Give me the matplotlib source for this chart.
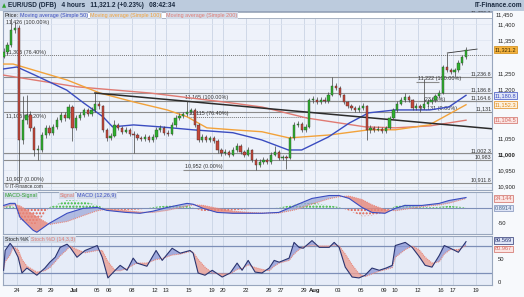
import numpy as np
import matplotlib.pyplot as plt

W, H = 524, 297
plt.rcParams['font.family'] = ['Liberation Sans', 'DejaVu Sans']

# 8-hour candles from 22 Jun to 18 Aug (index k, day d starts at k = 3.5 + 3*d)
close = [11314, 11336, 11382, 11388, 11044, 11105, 11121, 11081, 11013, 11013,
         11059, 11081, 11066, 11084, 11105, 11121, 11112, 11145, 11081, 11112,
         11121, 11136, 11123, 11136, 11155, 11148, 11075, 11050, 11056, 11090,
         11081, 11068, 11075, 11063, 11059, 11050, 11047, 11053, 11044, 11053,
         11075, 11081, 11066, 11063, 11090, 11112, 11118, 11123, 11130, 11136,
         11090, 11044, 11053, 11044, 11050, 11041, 11013, 11004, 11007, 10998,
         11013, 11026, 11007, 10998, 11013, 10982, 10967, 10976, 10982, 10976,
         10998, 11007, 10989, 10992, 10989, 11050, 11090, 11093, 11075, 11084,
         11167, 11167, 11160, 11167, 11164, 11182, 11210, 11204, 11182, 11160,
         11148, 11142, 11136, 11142, 11148, 11075, 11081, 11075, 11078, 11071,
         11081, 11112, 11136, 11155, 11167, 11176, 11167, 11142, 11148, 11142,
         11155, 11160, 11167, 11179, 11189, 11268, 11259, 11253, 11259, 11281,
         11299, 11321]
high = [11325, 11345, 11426, 11405, 11398, 11180, 11182, 11132, 11088, 11027,
        11067, 11091, 11089, 11094, 11114, 11130, 11131, 11155, 11150, 11120,
        11130, 11143, 11141, 11146, 11189, 11162, 11152, 11082, 11065, 11105,
        11097, 11086, 11084, 11080, 11070, 11065, 11057, 11061, 11058, 11061,
        11084, 11090, 11086, 11073, 11098, 11120, 11126, 11131, 11165, 11143,
        11141, 11095, 11061, 11059, 11057, 11055, 11046, 11019, 11016, 11012,
        11021, 11033, 11031, 11012, 11021, 11017, 10987, 10984, 10991, 10989,
        11006, 11026, 11012, 10999, 10999, 11057, 11098, 11103, 11099, 11092,
        11174, 11179, 11175, 11177, 11175, 11190, 11237, 11218, 11209, 11186,
        11165, 11155, 11149, 11150, 11156, 11152, 11089, 11086, 11086, 11084,
        11088, 11118, 11143, 11162, 11175, 11187, 11183, 11171, 11156, 11153,
        11232, 11169, 11175, 11186, 11196, 11275, 11311, 11266, 11266, 11288,
        11306, 11330]
low = [11295, 11306, 11330, 11372, 10912, 11032, 11092, 11070, 10995, 10983,
       11006, 11051, 11058, 11060, 11078, 11098, 11103, 11107, 11040, 11074,
       11105, 11114, 11116, 11118, 11131, 11140, 11069, 11040, 11043, 11053,
       11074, 11062, 11064, 11055, 11003, 11043, 11040, 11041, 11036, 11038,
       11047, 11069, 11059, 11055, 11058, 11085, 11106, 11112, 11116, 11122,
       11083, 11036, 11038, 11036, 11038, 11034, 11005, 10996, 10998, 10990,
       10993, 11008, 11000, 10991, 10993, 10975, 10952, 10960, 10969, 10969,
       10971, 10993, 10983, 10983, 10955, 10984, 11045, 11083, 11069, 11069,
       11079, 11157, 11153, 11154, 11157, 11158, 11178, 11197, 11176, 11154,
       11141, 11135, 11129, 11131, 11137, 11044, 11066, 11068, 11070, 11064,
       11066, 11076, 11107, 11131, 11150, 11161, 11159, 11135, 11136, 11131,
       11138, 11149, 11155, 11161, 11174, 11184, 11252, 11246, 11240, 11254,
       11275, 11294]
open_ = [11300] + close[:-1]

# moving averages, sampled along the candle index
ma50_x = [0, 3.5, 8, 16.5, 21, 26, 28.5, 34, 41, 49.5, 60, 67.5, 74.5, 78, 85,
          90.5, 95.5, 102.5, 111.5, 116.5, 121]
ma50 = [11262, 11268, 11244, 11197, 11157, 11115, 11084, 11090, 11084, 11075,
        11066, 11044, 11013, 11013, 11053, 11096, 11127, 11136, 11136, 11145, 11181]
ma100_x = [0, 2.5, 7.7, 16.6, 25.2, 33.9, 42.8, 48, 53.2, 60, 67.6, 74.7, 85.2,
           95.6, 102.5, 111.4, 121]
ma100 = [11277, 11277, 11259, 11228, 11188, 11161, 11136, 11115, 11081, 11075,
         11069, 11050, 11059, 11075, 11075, 11090, 11152]
ma200_x = [0, 19.2, 38.3, 59.3, 67.6, 79.4, 94.6, 102.5, 111.6, 121]
ma200 = [11243, 11207, 11188, 11158, 11145, 11111, 11084, 11081, 11087, 11104.5]
trend_x = [23.9, 127.9]
trend = [11188, 11078]
wedge_x = [116.1, 123.9]
wedge = [11311, 11323]

# MACD (12,26,9) and signal
macd_x = [0, 1.7, 3, 4.3, 7.7, 8.7, 12, 16.6, 20.8, 24.5, 27, 32, 35.7, 39, 42.8,
          48, 49.6, 52.2, 55.9, 60, 65.3, 67.6, 72, 76.3, 80.7, 85.2, 87.8, 90.4,
          93.8, 96.4, 99.8, 102.5, 105, 109.5, 114, 116.6, 121]
macd = [10, 17, 17, -31, -75, -82, -51, -17, 0, 3, -7, -14, -17, -10, 3,
        17, 14, 0, -14, -17, -17, -17, -14, 10, 34, 44, 44, 34,
        3, -14, -17, 0, 10, 10, 17, 27, 37]
signal = [5, 10, 13, 8, -20, -30, -55, -45, -25, -8, -3, -8, -13, -14, -7,
          8, 12, 10, 0, -10, -15, -16, -16, -5, 15, 33, 40, 42,
          30, 12, -5, -8, -3, 6, 12, 18, 34]
macd_hist = [5, 7, 4, -39, -55, -52, 4, 28, 25, 11, -4, -6, -4, 4, 10,
             9, 2, -10, -14, -7, -2, -1, 2, 15, 19, 11, 4, -8,
             -27, -26, -12, 8, 13, 4, 5, 9, 3]

# stochastic %K / %D
st_x = [0, 0.4, 1.7, 2.5, 3.8, 4.8, 6.1, 8.7, 10.8, 12.1, 13.5, 14.8, 16.6, 17.4,
        19.2, 21.3, 24.5, 25.8, 27.3, 29.2, 30.5, 32.3, 33.9, 34.9, 37.5, 39.9,
        41.5, 44.1, 46.2, 48.8, 49.6, 50.9, 52.7, 54.6, 57.2, 59.3, 61.1, 62.4,
        64, 65.8, 67.6, 69.5, 70.8, 72.1, 74.7, 76, 77.3, 78.4, 80.7, 82.6, 85.2,
        86.5, 87.8, 89.4, 91.2, 93, 94.6, 96.4, 98.3, 100.1, 101.7, 102.5, 105.1,
        106.9, 108.7, 110.3, 112.1, 114, 115.3, 116.9, 119, 121]
st_k = [26, 70, 86, 77, 55, 20, 31, 15, 31, 44, 55, 77, 84, 77, 55, 70, 81, 55,
        9, 26, 37, 26, 53, 42, 35, 70, 48, 75, 64, 70, 64, 20, 15, 26, 11, 20, 42,
        26, 48, 22, 20, 31, 48, 44, 53, 88, 77, 75, 92, 77, 77, 88, 77, 33, 11, 9,
        15, 31, 26, 31, 37, 81, 88, 77, 57, 37, 33, 59, 81, 75, 66, 89.6]
st_d = [30, 45, 60, 78, 72, 50, 35, 22, 25, 32, 45, 58, 72, 80, 72, 65, 70, 70,
        45, 25, 25, 30, 38, 42, 42, 50, 52, 60, 62, 68, 66, 50, 33, 20, 18, 18,
        28, 30, 38, 32, 28, 25, 35, 42, 48, 62, 72, 78, 82, 80, 80, 82, 80, 62, 38,
        18, 12, 18, 24, 28, 32, 55, 72, 80, 72, 55, 42, 45, 62, 72, 72, 81]

day_idx = [0, 2, 3, 5, 7, 8, 10, 12, 13, 15, 17, 18, 20, 22, 23, 25, 26, 28, 30,
           32, 33, 35, 37, 38, 40]
day_lbl = ['24', '28', '29', 'Jul', '05', '06', '08', '12', '13', '15', '19', '20',
           '22', '26', '27', '29', 'Aug', '03', '05', '09', '10', '12', '16', '17', '19']

price_ticks = [10900, 10950, 11000, 11050, 11200, 11250, 11350, 11400]

# horizontal levels: price, label
levels = [(11426.1, '11,426.1'), (11236.8, '11,236.8'), (11186.8, '11,186.8'),
          (11164.6, '11,164.6'), (11131, '11,131'), (11002.3, '11,002.3'),
          (10983, '10,983'), (10911.8, '10,911.8')]

BG = '#eef2fa'
GRID = '#c9d3e4'
FS = 3.9
TXT = '#333333'

fig = plt.figure(figsize=(W / 100, H / 100), dpi=100)
fig.patch.set_facecolor('#f7f9fc')


def px_axes(x0, y0, x1, y1):
    return fig.add_axes([x0 / W, 1 - y1 / H, (x1 - x0) / W, (y1 - y0) / H])


def tag(a, x, y, s, color, fc='#d3dbe8'):
    a.text(x, y, s, fontsize=FS, color=color, va='top', zorder=7,
           bbox=dict(boxstyle='square,pad=0.12', fc=fc, ec='none'))


# header bar
fig.patches.append(plt.Rectangle((0, 1 - 10.5 / H), 1, 10.5 / H, transform=fig.transFigure,
                                 facecolor='#bccbdd', edgecolor='none'))
fig.text(2 / W, 1 - 5.5 / H, '\u25b2', color='#2ea02e', fontsize=4, va='center',
         family='DejaVu Sans')
fig.text(8 / W, 1 - 5.5 / H, 'EUR/USD (DFB)   4 hours   11,321.2 (+0.23%)   08:42:34',
         fontsize=4.7, fontweight='bold', color='#1a2a40', va='center')
fig.text(522 / W, 1 - 5.5 / H, 'IT-Finance.com', fontsize=4.7, fontweight='bold',
         color='#1a2a40', va='center', ha='right')

k = np.arange(len(close))
xlim = (-0.16, 127.8)
tick_k = [3.5 + 3 * d for d in day_idx]

# ---------- price panel ----------
ax = px_axes(3, 11, 492, 190)
ax.set_facecolor(BG)
ax.set_xlim(*xlim)
ax.set_ylim(10890, 11440)
for t in tick_k:
    ax.axvline(t, color=GRID, lw=0.6, zorder=0)
for t in price_ticks:
    ax.axhline(t, color='#dde4f0', lw=0.5, zorder=0)

for p, lbl in levels:
    ax.axhline(p, color='#8c8c8c', lw=0.8, zorder=1)
    ax.text(127.6, p + 2, lbl, fontsize=FS, ha='right', va='bottom', color=TXT)

# fibonacci sets
ax.axhline(11304, color='#777777', lw=0.7, ls=(0, (1, 1)), zorder=1)
ax.text(0.5, 11398, '11,426 (100.00%)', fontsize=FS, color=TXT, va='bottom')
ax.text(0.5, 11306, '11,305 (76.40%)', fontsize=FS, color=TXT, va='bottom')
ax.text(0.5, 11107, '11,105 (38.20%)', fontsize=FS, color=TXT, va='bottom')
ax.text(0.5, 10914, '10,907 (0.00%)', fontsize=FS, color=TXT, va='bottom')
ax.hlines(11165, 47, 127.8, color='#8c8c8c', lw=0.8)
ax.hlines(11115, 48, 80, color='#777777', lw=0.7, ls=(0, (1, 1)))
ax.hlines(10952, 47, 78, color='#8c8c8c', lw=0.8)
ax.text(47.5, 11168, '11,165 (100.00%)', fontsize=FS, color=TXT, va='bottom')
ax.text(48.5, 11117, '11,115 (76.40%)', fontsize=FS, color=TXT, va='bottom')
ax.text(47.5, 10955, '10,952 (0.00%)', fontsize=FS, color=TXT, va='bottom')
ax.hlines(11222, 108, 114, color='#8c8c8c', lw=0.8)
ax.text(108.5, 11224, '11,222 (100.00%)', fontsize=FS, color=TXT, va='bottom')
ax.text(110, 11160, '(23.60%)', fontsize=FS, color=TXT, va='bottom')
ax.text(109, 11133, '11,131 (0.00%)', fontsize=FS, color=TXT, va='bottom')

ax.plot(ma200_x, ma200, color='#e07a72', lw=1.0, zorder=3)
ax.plot(ma100_x, ma100, color='#f2a23a', lw=1.0, zorder=3)
ax.plot(ma50_x, ma50, color='#3a4cc0', lw=1.0, zorder=3)
ax.plot(trend_x, trend, color='#2b2b2b', lw=1.1, zorder=3)
ax.plot(wedge_x, wedge, color='#333333', lw=0.6, zorder=3)

o = np.array(open_)
c = np.array(close)
up = c >= o
ax.vlines(k, low, high, color='#404040', lw=0.5, zorder=4)
body = np.maximum(np.abs(c - o), 1.5)
ax.bar(k[up], body[up], bottom=o[up], width=0.6, color='#2fb02f',
       edgecolor='#2a4a2a', lw=0.3, zorder=5)
ax.bar(k[~up], body[~up], bottom=c[~up], width=0.6, color='#c4483a',
       edgecolor='#4a2a2a', lw=0.3, zorder=5)

ax.yaxis.tick_right()
ax.set_yticks(price_ticks)
ax.set_yticklabels([f'{t:,}' for t in price_ticks], fontsize=FS + 0.3, color='#222222')
for lab in ax.get_yticklabels():
    if lab.get_text() == '11,000':
        lab.set_fontweight('bold')
ax.tick_params(axis='y', length=0, pad=4)
ax.text(1.0 + 4 / 489, 0.995, '11,450', transform=ax.transAxes, fontsize=FS + 0.3,
        color='#222222', va='top')
ax.set_xticks([])
for s in ax.spines.values():
    s.set_color('#98a6bd')
    s.set_linewidth(0.8)


def val_box(a, y, txt, fc, tc, ec):
    a.text(1.006, y, txt, transform=a.get_yaxis_transform(), fontsize=FS + 0.2,
           color=tc, va='center', ha='left',
           bbox=dict(boxstyle='square,pad=0.12', fc=fc, ec=ec, lw=0.5))


val_box(ax, 11321.2, '11,321.2', '#f4b23e', '#3a2a00', '#d08a10')
val_box(ax, 11180.8, '11,180.8', '#dfe5f7', '#3a4cc0', '#3a4cc0')
val_box(ax, 11152.3, '11,152.3', '#fdf0dc', '#e08a1a', '#e08a1a')
val_box(ax, 11104.5, '11,104.5', '#fbe4e2', '#d06a62', '#d06a62')

# legend strip
ax.axhspan(11418, 11436, xmin=0, xmax=1, facecolor='white', edgecolor='#9aa6b8',
           lw=0.6, zorder=6)
tag(ax, 0.3, 11434, 'Price:', '#222222')
tag(ax, 4.2, 11434, 'Moving average (Simple 50)', '#3a4cc0')
tag(ax, 22.7, 11434, 'Moving average (Simple 100)', '#f2a23a')
tag(ax, 42.6, 11434, 'Moving average (Simple 200)', '#e07a72')
ax.text(0.3, 10893, '\u00a9 IT-Finance.com', fontsize=3.4, color=TXT, va='bottom')

# ---------- MACD panel ----------
ax2 = px_axes(3, 192, 492, 234)
ax2.set_facecolor('#e6ecf8')
ax2.set_xlim(*xlim)
ax2.set_ylim(-88, 56)
for t in tick_k:
    ax2.axvline(t, color=GRID, lw=0.6, zorder=0)
ax2.axhline(0, color='#7d8fb8', lw=0.8, zorder=1)
mx = np.array(macd_x)
mh = np.array(macd_hist)
ax2.fill_between(mx, 0, mh, where=mh >= 0, interpolate=True, facecolor='none',
                 edgecolor='#33b833', hatch='.....', lw=0, zorder=2)
ax2.fill_between(mx, 0, mh, where=mh < 0, interpolate=True, facecolor='none',
                 edgecolor='#e05a48', hatch='.....', lw=0, zorder=2)
mm = np.array(macd)
ms = np.array(signal)
ax2.fill_between(mx, mm, ms, where=mm >= ms, interpolate=True, color='#9aa6d8',
                 alpha=0.7, lw=0, zorder=3)
ax2.fill_between(mx, mm, ms, where=mm < ms, interpolate=True, color='#e8877a',
                 alpha=0.8, lw=0, zorder=3)
ax2.plot(mx, ms, color='#e8877a', lw=0.8, ls=(0, (1, 0.8)), zorder=4)
ax2.plot(mx, mm, color='#3a4cc0', lw=0.8, zorder=4)
ax2.yaxis.tick_right()
ax2.set_yticks([-50])
ax2.set_yticklabels(['-50'], fontsize=FS + 0.3, color='#222222')
ax2.tick_params(axis='y', length=0, pad=4)
ax2.set_xticks([])
for s in ax2.spines.values():
    s.set_color('#98a6bd')
    s.set_linewidth(0.8)
val_box(ax2, 34.1, '34.144', '#fbe4e2', '#d06a62', '#d06a62')
val_box(ax2, 0.9, '0.8914', '#dfe5f7', '#4a6a8a', '#7d8fb8')
tag(ax2, 0.3, 53, 'MACD-Signal', '#2ea02e')
tag(ax2, 14.6, 53, 'Signal', '#e07a72')
tag(ax2, 19.3, 53, 'MACD (12,26,9)', '#3a4cc0')

# ---------- stochastic panel ----------
ax3 = px_axes(3, 236, 492, 285)
ax3.set_facecolor('#e6ecf8')
ax3.set_xlim(*xlim)
ax3.set_ylim(-6.7, 102.2)
for t in tick_k:
    ax3.axvline(t, color=GRID, lw=0.6, zorder=0)
ax3.axhline(80, color='#7d8fb8', lw=0.9, zorder=1)
ax3.axhline(20, color='#7d8fb8', lw=0.9, zorder=1)
sx = np.array(st_x)
sk = np.array(st_k)
sd = np.array(st_d)
ax3.fill_between(sx, sk, sd, where=sk >= sd, interpolate=True, color='#8a96d6',
                 alpha=0.75, lw=0, zorder=2)
ax3.fill_between(sx, sk, sd, where=sk < sd, interpolate=True, color='#eba095',
                 alpha=0.8, lw=0, zorder=2)
ax3.plot(sx, sd, color='#e8877a', lw=0.8, ls=(0, (1, 0.8)), zorder=3)
ax3.plot(sx, sk, color='#2a3470', lw=0.8, zorder=4)
ax3.yaxis.tick_right()
ax3.set_yticks([0, 50])
ax3.set_yticklabels(['0', '50'], fontsize=FS + 0.3, color='#222222')
ax3.tick_params(axis='y', length=0, pad=4)
ax3.set_xticks(tick_k)
ax3.set_xticklabels(day_lbl, fontsize=FS + 0.3, color='#222222')
for lab in ax3.get_xticklabels():
    if lab.get_text() in ('Jul', 'Aug'):
        lab.set_fontweight('bold')
ax3.tick_params(axis='x', length=0, pad=2.5)
for s in ax3.spines.values():
    s.set_color('#98a6bd')
    s.set_linewidth(0.8)
val_box(ax3, 92, '89.569', '#dfe5f7', '#2a3470', '#2a3470')
val_box(ax3, 74, '80.967', '#fbe4e2', '#d06a62', '#d06a62')
tag(ax3, 0.3, 100, 'Stoch %K', '#222222')
tag(ax3, 7.2, 100, 'Stoch %D (14,3,3)', '#e07a72')

fig.savefig('out.png', dpi=100, facecolor=fig.get_facecolor())
